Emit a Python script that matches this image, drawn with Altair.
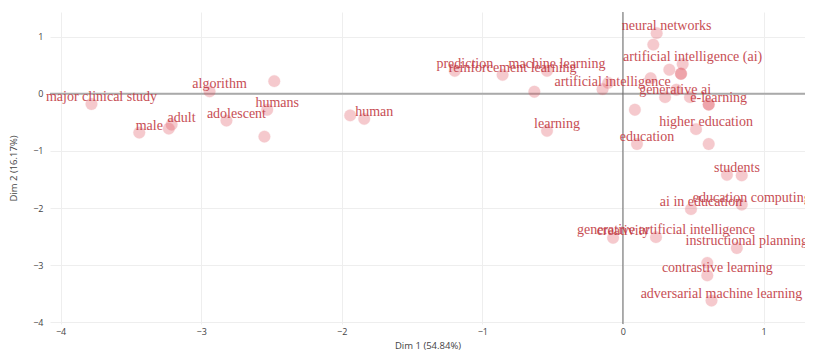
import altair as alt
import pandas as pd

labels = [
    "major clinical study", "algorithm", "", "humans", "male", "adult", "",
    "adolescent", "", "", "human", "prediction", "reinforcement learning",
    "machine learning", "", "artificial intelligence", "", "learning",
    "neural networks", "", "artificial intelligence (ai)", "", "", "", "",
    "generative ai", "", "", "e-learning", "", "", "higher education", "",
    "education", "students", "", "ai in education", "education computing",
    "creativity", "generative artificial intelligence", "instructional planning",
    "", "contrastive learning", "adversarial machine learning",
]
dim1 = [
    -3.78, -2.94, -2.48, -2.53, -3.44, -3.21, -3.23,
    -2.82, -2.55, -1.94, -1.84, -1.196, -0.856,
    -0.54, -0.63, -0.145, -0.105, -0.54,
    0.24, 0.216, 0.425, 0.33, 0.413, 0.413, 0.197,
    0.30, 0.38, 0.477, 0.61, 0.61, 0.085, 0.52, 0.61,
    0.10, 0.74, 0.845, 0.484, 0.845,
    -0.07, 0.235, 0.81,
    0.60, 0.60, 0.63,
]
dim2 = [
    -0.18, 0.04, 0.22, -0.28, -0.68, -0.54, -0.61,
    -0.47, -0.75, -0.38, -0.44, 0.40, 0.33,
    0.40, 0.035, 0.08, 0.19, -0.65,
    1.06, 0.86, 0.52, 0.42, 0.35, 0.35, 0.27,
    -0.06, 0.07, -0.06, -0.19, -0.19, -0.28, -0.62, -0.88,
    -0.88, -1.42, -1.43, -2.02, -1.94,
    -2.52, -2.51, -2.70,
    -2.96, -3.18, -3.62,
]
tick_values = [-4, -3, -2, -1, 0, 1]
x_title = "Dim 1 (54.84%)"
y_title = "Dim 2 (16.17%)"

df = pd.DataFrame({"label": labels, "dim1": dim1, "dim2": dim2})
zero_df = pd.DataFrame({"z": [0]})

xscale = alt.Scale(domain=[-4.075, 1.295], nice=False, zero=False)
yscale = alt.Scale(domain=[-4.03, 1.43], nice=False, zero=False)

xaxis = alt.Axis(values=tick_values, title=x_title, grid=True, gridColor="#eeeeee",
                 domain=False, ticks=False, labelPadding=3, labelFontSize=9,
                 labelColor="#444444", labelFont="Open Sans", titleFont="Open Sans",
                 titleFontSize=9.5, titleFontWeight="normal", titleColor="#444444",
                 titlePadding=4)
yaxis = alt.Axis(values=tick_values, title=y_title, grid=True, gridColor="#eeeeee",
                 domain=False, ticks=False, labelPadding=7, labelFontSize=9,
                 labelColor="#444444", labelFont="Open Sans", titleFont="Open Sans",
                 titleFontSize=9.5, titleFontWeight="normal", titleColor="#444444",
                 titlePadding=14)

base = alt.Chart(df)

points = base.mark_circle(size=140, color="#e0505c", opacity=0.3,
                          stroke="#e0505c", strokeWidth=1, strokeOpacity=0.25).encode(
    x=alt.X("dim1:Q", scale=xscale, axis=xaxis),
    y=alt.Y("dim2:Q", scale=yscale, axis=yaxis),
)

hzero = alt.Chart(zero_df).mark_rule(color="#aaaaaa", strokeWidth=2).encode(
    y=alt.Y("z:Q", scale=yscale, axis=yaxis)
)
vzero = alt.Chart(zero_df).mark_rule(color="#666666", strokeWidth=1).encode(
    x=alt.X("z:Q", scale=xscale, axis=xaxis)
)

texts = base.transform_filter(alt.datum.label != "").mark_text(
    dx=10, dy=-7, align="center", baseline="middle",
    font="Liberation Serif", fontSize=14, color="#c23a43", opacity=0.9,
).encode(
    x=alt.X("dim1:Q", scale=xscale, axis=xaxis),
    y=alt.Y("dim2:Q", scale=yscale, axis=yaxis),
    text="label:N",
)

chart = alt.layer(hzero, vzero, points, texts).properties(
    width=755, height=312,
    autosize=alt.AutoSizeParams(type="none"),
    padding={"left": 42, "top": 4, "right": 0, "bottom": 29},
).configure_view(stroke=None)

chart.save("out.html", embed_options={"renderer": "svg", "actions": False})
